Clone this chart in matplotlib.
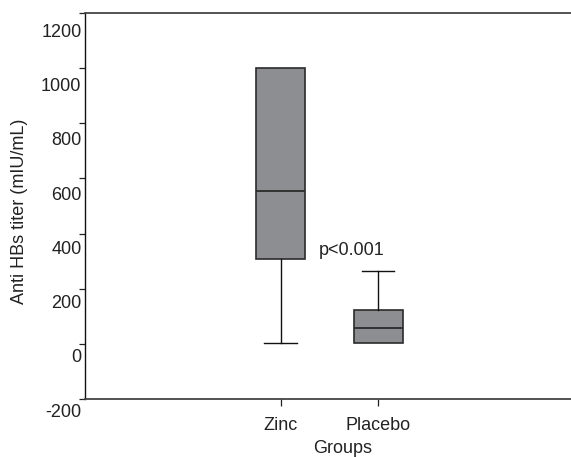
import numpy as np
import matplotlib
matplotlib.use('Agg')
import matplotlib.pyplot as plt
import matplotlib.transforms as mtransforms

plt.rcParams['font.family'] = ['Liberation Sans', 'DejaVu Sans']

# data (in units of the printed labels)
groups = ['Zinc', 'Placebo']
whisker_low = [54, 55]
q1 = [363, 55]
median = [616, 112]
q3 = [1068, 177]
whisker_high = [1068, 320]
ytick_labels = [-200, 0, 200, 400, 600, 800, 1000, 1200]
p_text = 'p<0.001'

stats = []
for i, g in enumerate(groups):
    stats.append({'label': g, 'whislo': whisker_low[i], 'q1': q1[i], 'med': median[i],
                  'q3': q3[i], 'whishi': whisker_high[i], 'fliers': []})

fig = plt.figure(figsize=(5.71, 4.57), dpi=100)
ax = fig.add_axes([0.1494, 0.1269, 0.855, 0.8446])

box_fc = '#8d8e92'
edge = '#2b2b2b'
bp = ax.bxp(stats, positions=[1, 2], widths=0.5, patch_artist=True, showfliers=False,
            capwidths=0.33,
            boxprops=dict(facecolor=box_fc, edgecolor=edge, linewidth=1.2),
            medianprops=dict(color=edge, linewidth=1.3),
            whiskerprops=dict(color='#111111', linewidth=1.0),
            capprops=dict(color='#111111', linewidth=1.0))

# no cap where the whisker has zero length
for i in range(len(groups)):
    if whisker_low[i] == q1[i]:
        bp['caps'][2 * i].set_visible(False)
    if whisker_high[i] == q3[i]:
        bp['caps'][2 * i + 1].set_visible(False)

ax.set_xlim(-1, 4)
# the printed labels sit a bit lower than the tick marks in the original
ylo, yhi = -151, 1270
ax.set_ylim(ylo, yhi)
ax.set_yticks(np.linspace(ylo, yhi, 8))
ax.set_yticklabels([])
ax.tick_params(axis='y', length=4.5, width=0.9, color='#222222')

ax.set_xticks([1, 2])
ax.set_xticklabels(groups, fontsize=13, color='#222222')
ax.tick_params(axis='x', length=5, width=0.9, pad=8, color='#222222')

trans = mtransforms.blended_transform_factory(ax.transAxes, ax.transData)
for v in ytick_labels:
    ax.text(-0.008, v, str(v), transform=trans, ha='right', va='center',
            fontsize=13, color='#222222', clip_on=False)

ax.text(1.73, 395, p_text, ha='center', va='center', fontsize=13, color='#222222')

ax.spines['right'].set_visible(False)
ax.spines['top'].set_color('#444444')
ax.spines['top'].set_linewidth(1.3)
ax.spines['bottom'].set_color('#444444')
ax.spines['bottom'].set_linewidth(1.3)
ax.spines['left'].set_color('#111111')
ax.spines['left'].set_linewidth(1.0)

ax.set_xlabel('Groups', fontsize=13, color='#222222')
ax.xaxis.set_label_coords(0.528, -0.106)
ax.set_ylabel('Anti HBs titer (mIU/mL)', fontsize=13, color='#222222')
ax.yaxis.set_label_coords(-0.118, 0.487)

fig.savefig('out.png', dpi=100)
